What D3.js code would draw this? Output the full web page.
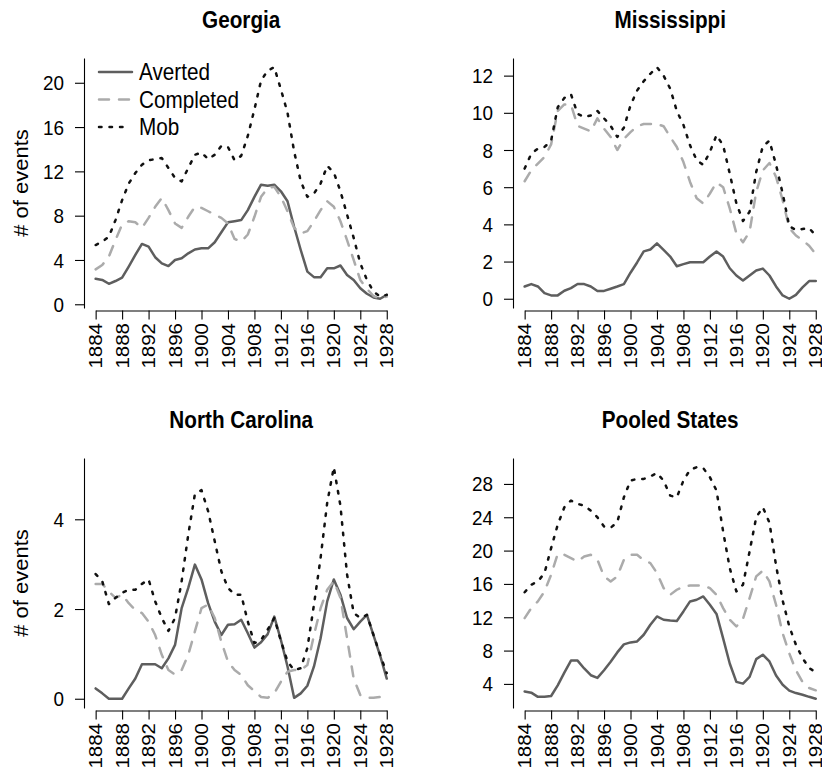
<!DOCTYPE html>
<html>
<head>
<meta charset="utf-8">
<script src="https://cdn.jsdelivr.net/npm/d3@7"></script>
<style>
  body { margin: 0; background: #fff; }
  svg { display: block; }
  text { font-family: "Liberation Sans", Arial, Helvetica, sans-serif; fill: #000; }
</style>
</head>
<body>
<svg id="chart" width="822" height="772"></svg>
<script>
// ---- data: yearly counts of lynching events, 1884-1928 ----
const years = d3.range(1884, 1929);
const tickYears = d3.range(1884, 1929, 4);
const seriesNames = ["Averted", "Completed", "Mob"];

const gaAverted = [2.3, 2.2, 1.85, 2.1, 2.4, 3.4, 4.45, 5.45, 5.2, 4.25, 3.7, 3.45, 4.0, 4.15, 4.6, 4.95, 5.05, 5.05, 5.6, 6.5, 7.4, 7.5, 7.6, 8.5, 9.7, 10.8, 10.7, 10.8, 10.2, 9.3, 7.0, 4.9, 2.95, 2.45, 2.45, 3.25, 3.25, 3.5, 2.65, 2.2, 1.45, 0.95, 0.62, 0.5, 0.85];
const gaCompleted = [3.15, 3.55, 4.3, 5.8, 7.2, 7.5, 7.4, 6.9, 7.8, 8.8, 9.6, 8.5, 7.3, 6.9, 7.9, 8.8, 8.7, 8.4, 8.1, 7.8, 7.3, 5.9, 5.65, 6.3, 7.9, 9.7, 10.5, 10.6, 9.7, 8.4, 6.9, 6.4, 6.6, 7.5, 8.5, 9.3, 8.8, 7.5, 5.8, 4.0, 2.2, 1.4, 0.75, 0.5, 0.7];
const gaMob = [5.35, 5.65, 6.1, 7.6, 9.4, 10.9, 11.85, 12.6, 13.0, 13.1, 13.2, 12.3, 11.4, 11.1, 12.3, 13.5, 13.7, 13.1, 13.5, 14.3, 14.2, 13.0, 13.4, 15.2, 17.6, 20.2, 21.1, 21.4, 19.4, 17.3, 13.8, 11.1, 9.7, 10.0, 10.9, 12.5, 11.9, 10.2, 8.1, 6.0, 3.7, 2.2, 1.14, 0.7, 0.85];

const msAverted = [0.66, 0.79, 0.66, 0.3, 0.18, 0.18, 0.43, 0.57, 0.79, 0.79, 0.66, 0.42, 0.42, 0.54, 0.66, 0.79, 1.4, 1.95, 2.55, 2.65, 2.98, 2.63, 2.27, 1.75, 1.86, 1.96, 1.96, 1.96, 2.27, 2.54, 2.27, 1.64, 1.25, 0.98, 1.25, 1.52, 1.62, 1.25, 0.66, 0.18, 0.0, 0.21, 0.61, 0.95, 0.96];
const msCompleted = [6.32, 6.9, 7.27, 7.63, 8.3, 10.1, 10.45, 10.45, 9.3, 9.15, 9.0, 9.7, 9.15, 8.7, 8.0, 8.6, 8.96, 9.28, 9.4, 9.4, 9.4, 9.28, 8.7, 8.16, 7.35, 6.28, 5.4, 5.12, 5.66, 6.25, 6.0, 4.86, 3.52, 3.04, 3.6, 5.75, 6.9, 7.3, 6.55, 5.3, 3.8, 3.4, 3.15, 2.85, 2.4];
const msMob = [7.0, 7.8, 8.07, 8.16, 8.5, 10.3, 10.8, 11.0, 9.95, 9.77, 9.86, 10.1, 9.7, 9.3, 8.7, 9.2, 10.4, 11.2, 11.7, 12.1, 12.45, 12.0, 11.3, 10.1, 9.35, 8.25, 7.45, 7.2, 7.9, 8.8, 8.25, 6.73, 5.13, 4.18, 4.68, 6.82, 8.2, 8.5, 7.2, 5.66, 3.9, 3.7, 3.75, 3.8, 3.4];

const ncAverted = [0.23, 0.12, 0, 0, 0, 0.23, 0.45, 0.77, 0.77, 0.77, 0.68, 0.9, 1.2, 2.02, 2.47, 2.99, 2.66, 2.13, 1.72, 1.42, 1.65, 1.66, 1.76, 1.46, 1.14, 1.26, 1.44, 1.83, 1.31, 0.72, 0.02, 0.12, 0.29, 0.72, 1.35, 2.17, 2.66, 2.32, 1.8, 1.55, 1.72, 1.87, 1.41, 0.96, 0.45];
const ncCompleted = [2.56, 2.56, 2.39, 2.25, 2.32, 2.13, 1.98, 1.91, 1.72, 1.42, 0.98, 0.64, 0.54, 0.64, 0.98, 1.5, 2.02, 2.1, 1.8, 1.27, 0.83, 0.64, 0.53, 0.3, 0.17, 0.04, 0.02, 0.12, 0.38, 0.6, 0.64, 0.64, 0.75, 1.42, 2.02, 2.43, 2.62, 2.25, 1.35, 0.45, 0.08, 0.02, 0.02, 0.04, 0.12];
const ncMob = [2.78, 2.62, 2.11, 2.25, 2.36, 2.43, 2.43, 2.56, 2.66, 2.17, 1.8, 1.51, 1.8, 2.62, 3.66, 4.56, 4.65, 4.18, 3.51, 2.84, 2.47, 2.32, 2.32, 1.72, 1.24, 1.31, 1.54, 1.8, 1.29, 0.83, 0.64, 0.68, 1.13, 2.1, 3.14, 4.37, 5.16, 4.3, 2.77, 1.91, 1.8, 1.87, 1.42, 0.98, 0.57];

const poolAverted = [3.1, 2.95, 2.45, 2.45, 2.55, 3.83, 5.36, 6.8, 6.8, 5.85, 5.04, 4.72, 5.64, 6.65, 7.78, 8.74, 8.98, 9.1, 9.9, 11.1, 12.1, 11.7, 11.6, 11.56, 12.7, 13.9, 14.1, 14.5, 13.5, 12.4, 9.47, 6.45, 4.24, 4.03, 4.84, 6.97, 7.5, 6.7, 5.0, 3.9, 3.2, 2.9, 2.7, 2.45, 2.22];
const poolCompleted = [11.9, 13.1, 13.9, 15.1, 17.1, 19.6, 19.5, 19.1, 18.7, 19.3, 19.5, 18.9, 16.9, 16.3, 16.9, 18.9, 19.5, 19.5, 18.85, 18.5, 17.3, 15.5, 14.7, 15.3, 15.7, 15.8, 15.8, 15.8, 15.5, 14.7, 13.1, 11.7, 10.9, 11.8, 14.3, 16.9, 17.6, 16.3, 13.5, 10.07, 7.66, 5.64, 4.24, 3.51, 3.23];
const poolMob = [15.0, 15.9, 16.3, 17.3, 20.3, 23.1, 25.2, 26.0, 25.6, 25.4, 24.8, 24.0, 22.9, 22.75, 23.4, 26.4, 28.4, 28.6, 28.6, 28.9, 29.3, 28.4, 26.6, 26.4, 28.4, 29.7, 30.0, 29.9, 28.8, 27.2, 22.3, 17.9, 15.1, 15.9, 19.9, 24.0, 25.2, 23.35, 18.2, 14.0, 10.9, 8.7, 7.1, 5.9, 5.4];

const gaTicks = [0, 4, 8, 12, 16, 20];
const msTicks = [0, 2, 4, 6, 8, 10, 12];
const ncTicks = [0, 2, 4];
const poolTicks = [4, 8, 12, 16, 20, 24, 28];

// ---- panel setup ----
const panels = [
  { title: "Georgia", series: [gaAverted, gaCompleted, gaMob], ticks: gaTicks, col: 0, row: 0, ylab: true, legend: true },
  { title: "Mississippi", series: [msAverted, msCompleted, msMob], ticks: msTicks, col: 1, row: 0 },
  { title: "North Carolina", series: [ncAverted, ncCompleted, ncMob], ticks: ncTicks, col: 0, row: 1, ylab: true },
  { title: "Pooled States", series: [poolAverted, poolCompleted, poolMob], ticks: poolTicks, col: 1, row: 1 }
];

// line styles per series (solid / dashed / dotted)
const styles = [
  { stroke: "#5e5e5e", dash: null },
  { stroke: "#ababab", dash: "10,10" },
  { stroke: "#111111", dash: "2.5,8" }
];

const colX = [84, 513], rowY = [58, 458];
const plotW = 314.4, plotH = 250;
const SX = 0.9;           // horizontal squeeze of the lettering
const LW = 2.5;

const svg = d3.select("#chart");

function label(g, x, y, str, opts) {
  const o = Object.assign({ size: 21, anchor: "middle", rotate: 0, weight: "normal", dy: "0" }, opts || {});
  g.append("g")
    .attr("transform", `translate(${x},${y}) scale(${SX},1) rotate(${o.rotate})`)
    .append("text")
    .attr("text-anchor", o.anchor)
    .attr("dy", o.dy)
    .style("font-size", o.size + "px")
    .style("font-weight", o.weight)
    .text(str);
}

panels.forEach(p => {
  const x0 = colX[p.col], y0 = rowY[p.row];
  const g = svg.append("g");

  const span = 1928 - 1884;
  const x = d3.scaleLinear()
    .domain([1884 - 0.04 * span, 1928 + 0.04 * span])
    .range([x0, x0 + plotW]);

  const all = p.series.flat();
  const [lo, hi] = d3.extent(all);
  const pad = 0.04 * (hi - lo);
  const y = d3.scaleLinear().domain([lo - pad, hi + pad]).range([y0 + plotH, y0]);

  // y axis: line over the whole plotting range, ticks at the chosen values
  const yAxis = d3.axisLeft(y).tickValues(p.ticks).tickSize(9).tickSizeOuter(0).tickFormat("");
  const ya = g.append("g").attr("transform", `translate(${x0},0)`).call(yAxis);
  ya.selectAll("path, line").attr("stroke", "#000").attr("stroke-width", 1.1);
  p.ticks.forEach(t => label(g, x0 - 20, y(t), String(t), { anchor: "end", dy: "0.36em", size: 21 }));

  // x axis: line only from first to last year tick
  const xTickScale = x.copy().domain([1884, 1928]).range([x(1884), x(1928)]);
  const xAxisY = y0 + plotH + 2.5;
  const xAxis = d3.axisBottom(xTickScale).tickValues(tickYears).tickSize(9).tickSizeOuter(0).tickFormat("");
  const xa = g.append("g").attr("transform", `translate(0,${xAxisY})`).call(xAxis);
  xa.selectAll("path, line").attr("stroke", "#000").attr("stroke-width", 1.1);
  tickYears.forEach(t => label(g, x(t), xAxisY + 12.5, String(t), { anchor: "end", rotate: -90, dy: "0.36em", size: 20.5 }));

  // series lines
  p.series.forEach((vals, i) => {
    const line = d3.line().x((d, j) => x(years[j])).y(d => y(d));
    const path = g.append("path")
      .datum(vals)
      .attr("d", line)
      .attr("fill", "none")
      .attr("stroke", styles[i].stroke)
      .attr("stroke-width", LW)
      .attr("stroke-linecap", "round")
      .attr("stroke-linejoin", "round");
    if (styles[i].dash) path.attr("stroke-dasharray", styles[i].dash);
  });

  // title
  label(g, x0 + plotW / 2, y0 - 30, p.title, { size: 23, weight: "bold" });

  // y axis title
  if (p.ylab) label(g, 28, y0 + plotH / 2, "# of events", { rotate: -90, size: 22 });

  // legend
  if (p.legend) {
    const lx = x0 + 15, rows = [72, 99.5, 127];
    seriesNames.forEach((name, i) => {
      const seg = g.append("line")
        .attr("x1", lx).attr("x2", i === 2 ? lx + 27 : lx + 33)
        .attr("y1", rows[i]).attr("y2", rows[i])
        .attr("stroke", styles[i].stroke)
        .attr("stroke-width", LW)
        .attr("stroke-linecap", "round");
      if (styles[i].dash) seg.attr("stroke-dasharray", styles[i].dash);
      label(g, lx + 40, rows[i], name, { anchor: "start", dy: "0.36em", size: 23 });
    });
  }
});
</script>
</body>
</html>
